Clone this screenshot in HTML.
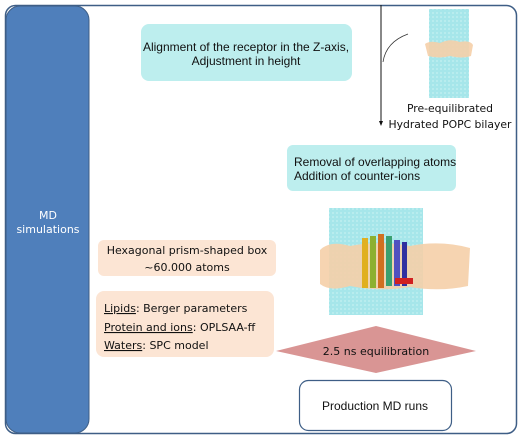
<!DOCTYPE html>
<html><head><meta charset="utf-8"><style>
body{margin:0;width:532px;height:440px;background:#fff;overflow:hidden}
svg{display:block}
text{font-family:"Liberation Sans",sans-serif;font-size:12px;fill:#111}
.c{font-family:"DejaVu Sans",sans-serif;font-size:11px}
</style></head><body>
<svg width="532" height="440">
<defs>
<pattern id="dots" width="4" height="4" patternUnits="userSpaceOnUse"><rect width="4" height="4" fill="#a6e6ea"/><circle cx="1" cy="1" r="0.9" fill="#c6f0f2"/></pattern>
</defs>
<rect x="5.5" y="5.5" width="511" height="428" rx="10" fill="#fff" stroke="#3e5e86" stroke-width="1.5"/>
<rect x="6" y="6" width="83" height="427" rx="14" fill="#4f7fbb" stroke="#3e5e86"/>
<text class="c" x="48" y="219" text-anchor="middle" style="fill:#fff">MD</text>
<text class="c" x="48" y="233" text-anchor="middle" style="fill:#fff">simulations</text>

<rect x="141" y="24" width="211" height="57" rx="8" fill="#bdeeee"/>
<text x="246" y="51" text-anchor="middle">Alignment of the receptor in the Z-axis,</text>
<text x="246" y="65" text-anchor="middle">Adjustment in height</text>

<line x1="381" y1="5" x2="381" y2="122" stroke="#111"/>
<polygon points="379,121 383,121 381,126" fill="#111"/>
<path d="M383,62 Q386,42 408,34" fill="none" stroke="#333" stroke-width="0.8"/>

<g>
<rect x="429" y="9" width="40" height="89" fill="url(#dots)"/>
<path d="M425,44 Q430,40 440,43 Q450,38 460,42 Q470,40 473,45 L471,56 Q462,59 450,56 Q440,59 428,56 Z" fill="#f5cfa8" opacity="0.9"/>
</g>
<text class="c" x="450" y="112" text-anchor="middle" style="font-size:10.8px">Pre-equilibrated</text>
<text class="c" x="450" y="128" text-anchor="middle" style="font-size:10.8px">Hydrated POPC bilayer</text>

<rect x="287" y="145" width="169" height="46" rx="6" fill="#bdeeee"/>
<text x="294" y="166">Removal of overlapping atoms</text>
<text x="294" y="180">Addition of counter-ions</text>

<g>
<rect x="329" y="208" width="94" height="107" fill="url(#dots)"/>
<path d="M320,250 Q330,240 350,246 Q380,240 410,246 Q440,240 470,248 L468,286 Q440,292 410,287 Q380,292 350,286 Q330,292 320,284 Z" fill="#f5cfa8" opacity="0.9"/>
<rect x="362" y="238" width="6" height="50" fill="#e0b020"/>
<rect x="370" y="236" width="6" height="52" fill="#8cb030"/>
<rect x="378" y="234" width="6" height="54" fill="#d07020"/>
<rect x="386" y="236" width="6" height="50" fill="#3aa070"/>
<rect x="394" y="240" width="6" height="46" fill="#5050c0"/>
<rect x="402" y="242" width="5" height="44" fill="#3030a0"/>
<rect x="395" y="278" width="18" height="6" fill="#d02020"/>
</g>

<rect x="98" y="240" width="178" height="36" rx="6" fill="#fce5d4"/>
<text class="c" x="187" y="254" text-anchor="middle">Hexagonal prism-shaped box</text>
<text class="c" x="187" y="271" text-anchor="middle">~60.000 atoms</text>

<rect x="96" y="291" width="178" height="66" rx="8" fill="#fce5d4"/>
<text class="c" x="104" y="312"><tspan text-decoration="underline">Lipids</tspan>: Berger parameters</text>
<text class="c" x="104" y="331"><tspan text-decoration="underline">Protein and ions</tspan>: OPLSAA-ff</text>
<text class="c" x="104" y="349"><tspan text-decoration="underline">Waters</tspan>: SPC model</text>

<polygon points="276,351 376,326 476,351 376,373" fill="#d99594"/>
<text class="c" x="376" y="355" text-anchor="middle">2.5 ns equilibration</text>

<rect x="299.5" y="380.5" width="152" height="50" rx="9" fill="#fff" stroke="#3e5e86" stroke-width="1.2"/>
<text x="375" y="410" text-anchor="middle">Production MD runs</text>
</svg>
</body></html>
